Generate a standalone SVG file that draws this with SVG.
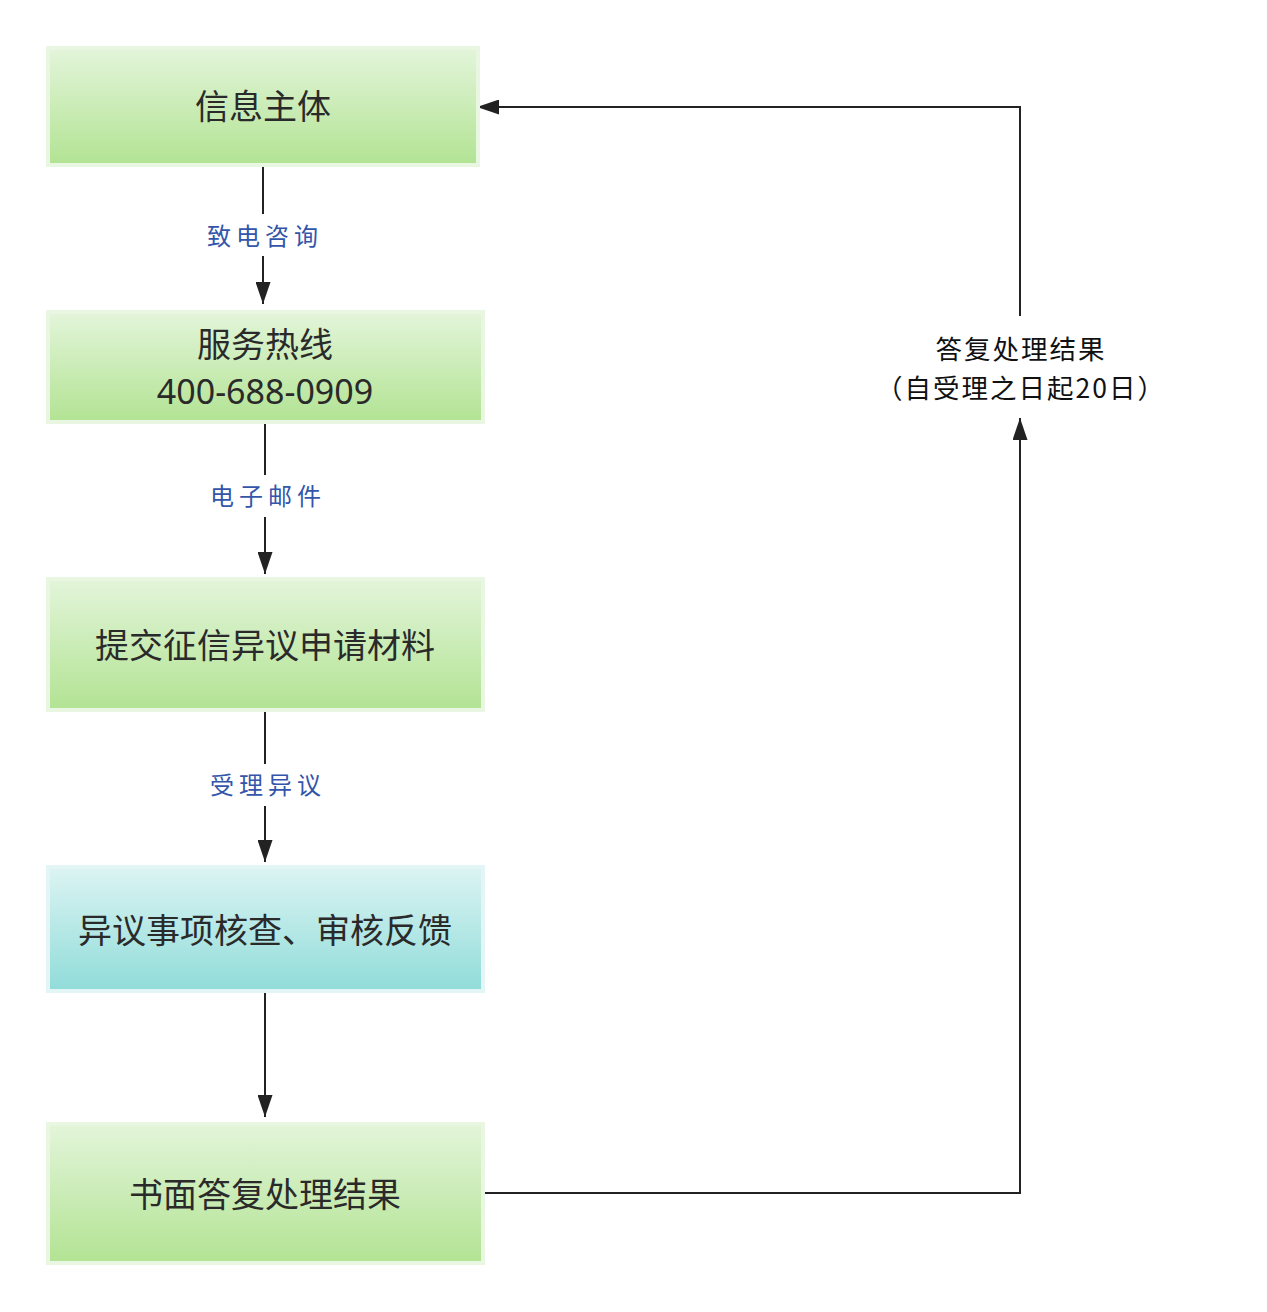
<svg xmlns="http://www.w3.org/2000/svg" width="1267" height="1312" viewBox="0 0 1267 1312">
<defs>
<linearGradient id="gGreen" x1="0" y1="0" x2="0" y2="1">
<stop offset="0" stop-color="#e3f5da"/>
<stop offset="1" stop-color="#b2e393"/>
</linearGradient>
<linearGradient id="gCyan" x1="0" y1="0" x2="0" y2="1">
<stop offset="0" stop-color="#dcf4f3"/>
<stop offset="1" stop-color="#90dcd9"/>
</linearGradient>
<marker id="arrL" viewBox="0 0 22 15" refX="22" refY="7.5" markerWidth="22" markerHeight="15" markerUnits="userSpaceOnUse" orient="auto">
<path d="M0,0 L22,7.5 L0,15 z" fill="#222"/>
</marker>
</defs>
<style>
.box{stroke:#e9f6e2;stroke-width:4}
.boxc{stroke:#e3f6f5;stroke-width:4}
.t{font-family:"Noto Sans CJK SC","Noto Sans",sans-serif;font-size:34px;fill:#2a2a2a;text-anchor:middle}
.num{font-family:"Noto Sans",sans-serif}
.lbl{font-family:"Noto Sans CJK SC",sans-serif;font-size:24px;fill:#3355aa;text-anchor:middle;letter-spacing:5px}
.rl{font-family:"Noto Sans CJK SC",sans-serif;font-size:26.5px;fill:#111;text-anchor:middle;letter-spacing:2px}
.c{fill:none;stroke:#222;stroke-width:2}
</style>
<rect width="1267" height="1312" fill="#fff"/>
<g id="connectors">
<line class="c" x1="263" y1="167" x2="263" y2="214"/>
<line class="c" x1="263" y1="256" x2="263" y2="304" marker-end="url(#arrL)"/>
<text class="lbl" x="265" y="245">致电咨询</text>
<line class="c" x1="265" y1="424" x2="265" y2="475"/>
<line class="c" x1="265" y1="517" x2="265" y2="574" marker-end="url(#arrL)"/>
<text class="lbl" x="268" y="505">电子邮件</text>
<line class="c" x1="265" y1="712" x2="265" y2="764"/>
<line class="c" x1="265" y1="806" x2="265" y2="862" marker-end="url(#arrL)"/>
<text class="lbl" x="268" y="794">受理异议</text>
<line class="c" x1="265" y1="993" x2="265" y2="1117" marker-end="url(#arrL)"/>
<polyline class="c" points="485,1193 1020,1193 1020,418" marker-end="url(#arrL)"/>
<polyline class="c" points="1020,316 1020,107 477,107" marker-end="url(#arrL)"/>
<text class="rl" x="1021" y="359">答复处理结果</text>
<text class="rl" x="1021" y="398">（自受理之日起20日）</text>
</g>
<g id="n1">
<rect class="box" x="48" y="48" width="430" height="117" fill="url(#gGreen)"/>
<text class="t" x="263" y="119">信息主体</text>
</g>
<g id="n2">
<rect class="box" x="48" y="312" width="435" height="110" fill="url(#gGreen)"/>
<text class="t" x="265" y="357">服务热线</text>
<text class="t num" x="265" y="404">400-688-0909</text>
</g>
<g id="n3">
<rect class="box" x="48" y="579" width="435" height="131" fill="url(#gGreen)"/>
<text class="t" x="265" y="658">提交征信异议申请材料</text>
</g>
<g id="n4">
<rect class="boxc" x="48" y="867" width="435" height="124" fill="url(#gCyan)"/>
<text class="t" x="265" y="943">异议事项核查、审核反馈</text>
</g>
<g id="n5">
<rect class="box" x="48" y="1124" width="435" height="139" fill="url(#gGreen)"/>
<text class="t" x="265" y="1207">书面答复处理结果</text>
</g>
</svg>
